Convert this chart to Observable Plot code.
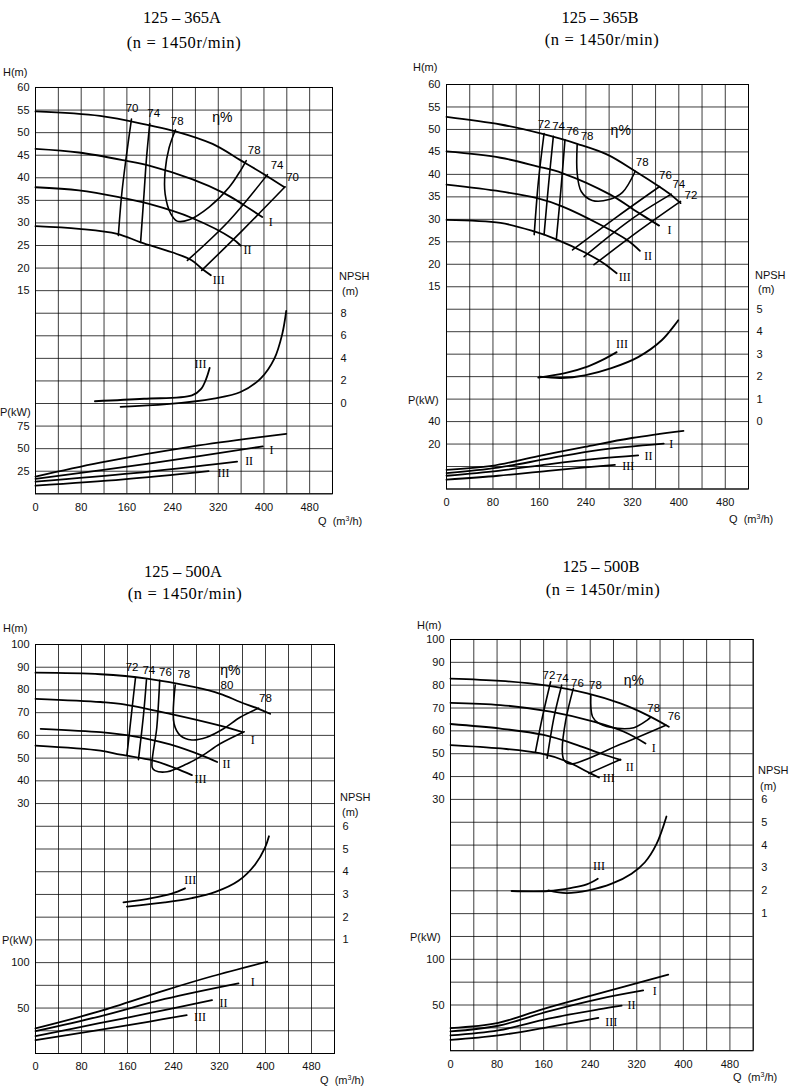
<!DOCTYPE html>
<html><head><meta charset="utf-8">
<script src="https://cdn.jsdelivr.net/npm/d3@7"></script>
<script src="https://cdn.jsdelivr.net/npm/@observablehq/plot@0.6"></script>
<style>
body{margin:0;background:#fff;}
#fig{position:relative;width:800px;height:1091px;overflow:hidden;background:#fff;font-family:"Liberation Sans",Arial,sans-serif;color:#111;}
.t{position:absolute;white-space:nowrap;line-height:1;}
.title{font-family:"Liberation Serif","Times New Roman",serif;font-size:16.5px;transform:translate(-50%,-50%);color:#000;}
.sub{letter-spacing:0.6px;}
.lab{font-size:11px;transform:translateY(-50%);}
svg{position:absolute;overflow:visible;}
</style></head><body><div id="fig"></div>
<script>
// ---------- shared ----------
const xTicks = [0, 80, 160, 240, 320, 400, 480];
const subtitle = "(n = 1450r/min)";

// ---------- 125-365A ----------
const A_title = "125 – 365A";
const A_hTicks = [60, 55, 50, 45, 40, 35, 30, 25, 20, 15];
const A_npshTicks = [8, 6, 4, 2, 0];
const A_pTicks = [75, 50, 25];
const A_H0 = [[0,54.7],[113,53.7],[200,51.6],[245,50.3],[310,47.5],[360,43.8],[400,40.8],[436,37.9]];
const A_H1 = [[0,46.4],[76,45.6],[158,43.8],[199,42.7],[274,39.7],[330,36.6],[362,34.2],[397,31.3]];
const A_H2 = [[0,37.9],[76,37.2],[146,35.7],[199,34.2],[274,31.1],[345,26.5],[359,25]];
const A_H3 = [[0,29.3],[76,28.7],[143,27.6],[184,25.7],[239,23.5],[274,21.7],[292,19.8],[307,18.4]];
const A_eff = [
  [[168,53],[158,43.8],[151,36.4],[145,27.2]],
  [[200,52],[194,43.8],[190,36.4],[184,25.7]],
  [[245,50.6],[234,46.7],[227,41.6],[227,36.4],[237,32],[248,30.4],[269,30.7],[304,33.5],[339,37.9],[359,41.6],[369,43.8]],
  [[266,21.7],[339,30.5],[406,40.7]],
  [[291,19.5],[362,28.3],[437,38]]
];
const A_effLabels = [["70",169,55.4],["74",207,54.3],["78",248,52.4],["78",383,46],["74",423,42.7],["70",450,40.2]];
const A_etaLabel = [["η%",327,53.4]];
const A_romanH = [["I",412,30.2],["II",371,23.9],["III",321,17.3]];
const A_N3 = [[104,0.2],[190,0.42],[274,0.72],[290,1.3],[299,2.2],[305,3.16]];
const A_N0 = [[149,-0.29],[230,-0.06],[312,0.44],[359,1.02],[394,2.2],[418,3.95],[432,6.15],[439,8.2]];
const A_romanN = [["III",289,3.45]];
const A_P0 = [[0,19],[113,34.5],[275,52.5],[439,66.4]];
const A_P1 = [[0,16.5],[201,33.8],[398,52.5]];
const A_P2 = [[0,13.5],[172,22.8],[353,35.6]];
const A_P3 = [[0,9],[154,16],[303,25.1]];
const A_romanP = [["I",413,48],["II",374,35.6],["III",329,22.5]];

// ---------- 125-365B ----------
const B_title = "125 – 365B";
const B_hTicks = [60, 55, 50, 45, 40, 35, 30, 25, 20, 15];
const B_npshTicks = [5, 4, 3, 2, 1, 0];
const B_pTicks = [40, 20];
const B_H0 = [[0,52.8],[93,51.1],[162,49.1],[225,46.8],[277,44.4],[325,40.7],[366,37.3],[386,35.5],[403,33.6]];
const B_H1 = [[0,45.1],[93,43.7],[156,41.8],[199,40.3],[282,35.5],[323,32.1],[366,28.6]];
const B_H2 = [[0,37.7],[93,36.2],[156,34.7],[199,32.9],[265,28.8],[311,25.4],[333,23]];
const B_H3 = [[0,29.9],[93,29.2],[151,27.3],[188,25.6],[240,22.5],[271,20.2],[293,18]];
const B_eff = [
  [[168,49.1],[158,38.1],[151,26.6]],
  [[184,48.5],[176,38.1],[168,26.6]],
  [[204,47.7],[197,36.6],[189,25.4]],
  [[225,46.6],[225,40.3],[232,36.2],[251,34.2],[280,34.4],[303,36],[325,40.7]],
  [[217,23.2],[294,30.6],[367,37.3]],
  [[237,21.7],[317,29.9],[387,35.6]],
  [[254,19.9],[334,27.7],[403,34]]
];
const B_effLabels = [["72",168,51.1],["74",193,50.6],["76",217,49.6],["78",242,48.5],["78",337,42.7],["76",377,39.9],["74",400,37.9],["72",421,35.3]];
const B_etaLabel = [["η%",300,49.8]];
const B_romanH = [["I",384,27.5],["II",347,21.7],["III",307,17.1]];
const B_N3 = [[158,1.96],[204,2.16],[244,2.46],[273,2.8],[293,3.09]];
const B_N0 = [[160,2.0],[198,1.94],[238,2.06],[284,2.38],[330,2.87],[371,3.63],[399,4.51]];
const B_romanN = [["III",302,3.46]];
const B_P0 = [[0,-2.9],[78,0.6],[158,9.3],[238,17.5],[319,25.4],[408,31.8]];
const B_P1 = [[0,-5.8],[89,-0.9],[175,7],[261,14.6],[374,20.4]];
const B_P2 = [[0,-8.2],[89,-3.8],[175,2],[261,7],[330,9.9]];
const B_P3 = [[0,-11.7],[89,-8.2],[175,-3.8],[290,1.5]];
const B_romanP = [["I",387,19.6],["II",348,9.3],["III",313,0]];

// ---------- 125-500A ----------
const C_title = "125 – 500A";
const C_hTicks = [100, 90, 80, 70, 60, 50, 40, 30];
const C_npshTicks = [6, 5, 4, 3, 2, 1];
const C_pTicks = [100, 50];
const C_H0 = [[0,87.6],[113,86.9],[194,85],[275,81.3],[321,78.3],[356,74.7],[388,71.7],[408,69.5]];
const C_H1 = [[0,76.1],[113,74.7],[148,73.9],[234,69.5],[321,64.3],[360,61.4]];
const C_H2 = [[9,62.9],[113,61.4],[148,60.4],[194,58.5],[234,56],[290,51.1],[316,48.3]];
const C_H3 = [[0,55.5],[113,53.3],[148,51.5],[205,48.9],[243,45.6],[272,42.5]];
const C_eff = [
  [[174,85.5],[168,72],[159,51.2]],
  [[193,84.5],[188,69.5],[179,49.3]],
  [[216,84.2],[211,63.6],[203,45.9],[208,44.5],[229,44],[263,47.4],[290,51.1],[321,56.3],[363,61.6]],
  [[243,82.2],[241,65.1],[252,59.9],[272,58],[298,59.2],[327,62.9],[356,68],[388,72]]
];
const C_effLabels = [["72",168,89.8],["74",197,88.6],["76",226,87.6],["78",258,86.9],["80",333,82],["78",400,76.1]];
const C_etaLabel = [["η%",339,88.6]];
const C_romanH = [["I",378,57.7],["II",332,47.4],["III",287,40.8]];
const C_N3 = [[153,2.65],[202,2.84],[237,3.04],[260,3.27]];
const C_N0 = [[159,2.46],[225,2.65],[272,2.84],[313,3.11],[353,3.6],[382,4.32],[399,5.05],[406,5.56]];
const C_romanN = [["III",269,3.62]];
const C_P0 = [[0,27.6],[109,46],[225,69.5],[307,85],[403,101]];
const C_P1 = [[0,24.6],[109,40.4],[225,60],[353,77.2]];
const C_P2 = [[0,19.1],[109,33.1],[196,44.1],[307,58.8]];
const C_P3 = [[0,14.7],[109,25.7],[196,34.9],[263,42.3]];
const C_romanP = [["I",378,79],["II",327,55.9],["III",286,39.7]];

// ---------- 125-500B ----------
const D_title = "125 – 500B";
const D_hTicks = [100, 90, 80, 70, 60, 50, 40, 30];
const D_npshTicks = [6, 5, 4, 3, 2, 1];
const D_pTicks = [100, 50];
const D_H0 = [[0,82.9],[86,81.9],[160,80],[235,76.4],[292,72],[338,66.9],[375,61.8]];
const D_H1 = [[0,72.3],[86,71.3],[172,68.4],[246,64],[298,59.6],[335,54.5]];
const D_H2 = [[0,63],[86,61],[160,58.2],[218,53.8],[258,50.1],[292,47.3]];
const D_H3 = [[0,53.8],[86,52.3],[155,50.1],[201,46.5],[235,42.1],[255,39.6]];
const D_eff = [
  [[172,81.5],[158,66.2],[146,50.9]],
  [[191,80],[178,66.2],[166,48]],
  [[211,78.6],[198,64.7],[192,51.6],[195,47.2],[206,45.5],[292,54.1],[370,62.5]],
  [[241,75.6],[244,66.2],[255,63.3],[287,61.1],[315,61.4],[338,64.7],[344,66]],
  [[238,41.4],[292,47.5]]
];
const D_effLabels = [["72",169,84.4],["74",192,82.9],["76",218,81],["78",249,80],["78",349,69.8],["76",384,66.2]];
const D_etaLabel = [["η%",315,81.9]];
const D_romanH = [["I",349,52.3],["II",308,44],["III",272,39.4]];
const D_N3 = [[105,1.99],[168,1.99],[208,2.13],[234,2.28],[253,2.53]];
const D_N0 = [[168,2.02],[199,1.9],[237,2.02],[277,2.31],[311,2.75],[334,3.25],[354,4.05],[371,5.25]];
const D_romanN = [["III",255,3.07]];
const D_P0 = [[0,24.8],[82,30.5],[156,45],[240,60],[374,83.3]];
const D_P1 = [[0,21.1],[82,27.3],[168,43],[254,56.5],[331,65.9]];
const D_P2 = [[0,16.7],[82,22.2],[168,35],[254,45.1],[294,49.2]];
const D_P3 = [[0,11.8],[82,16.7],[168,25.9],[254,35.9]];
const D_romanP = [["I",351,64.8],["II",311,50],["III",276,31.5]];

// ---------- panel definitions (scales & layout) ----------
const panels = [
  {title:A_title, hTicks:A_hTicks, npshTicks:A_npshTicks, pTicks:A_pTicks,
   H:[A_H0,A_H1,A_H2,A_H3], eff:A_eff, effLabels:A_effLabels, eta:A_etaLabel, romanH:A_romanH,
   N:[A_N3,A_N0], romanN:A_romanN, P:[A_P0,A_P1,A_P2,A_P3], romanP:A_romanP,
   yDomain:[-30,60], step:5, nOff:-10, nFac:2.5, pOff:-30, pFac:0.2,
   x0:0, frame:{left:35, right:332, top:86.7, bottom:493},
   tx:182, ty:18, sy:43, hm:[3,72], npsh:[339,276], m:[342,291], pk:[0,412], q:[318,521]},
  {title:B_title, hTicks:B_hTicks, npshTicks:B_npshTicks, pTicks:B_pTicks,
   H:[B_H0,B_H1,B_H2,B_H3], eff:B_eff, effLabels:B_effLabels, eta:B_etaLabel, romanH:B_romanH,
   N:[B_N3,B_N0], romanN:B_romanN, P:[B_P0,B_P1,B_P2,B_P3], romanP:B_romanP,
   yDomain:[-30,60], step:5, nOff:-15, nFac:5, pOff:-25, pFac:0.25,
   x0:400, frame:{left:446, right:748, top:83.5, bottom:488},
   tx:600, ty:18, sy:40, hm:[413,67], npsh:[755,275], m:[758,289], pk:[408,400], q:[729,519]},
  {title:C_title, hTicks:C_hTicks, npshTicks:C_npshTicks, pTicks:C_pTicks,
   H:[C_H0,C_H1,C_H2,C_H3], eff:C_eff, effLabels:C_effLabels, eta:C_etaLabel, romanH:C_romanH,
   N:[C_N3,C_N0], romanN:C_romanN, P:[C_P0,C_P1,C_P2,C_P3], romanP:C_romanP,
   yDomain:[-80,100], step:10, nOff:-40, nFac:10, pOff:-80, pFac:0.4,
   x0:0, frame:{left:35, right:334, top:644.3, bottom:1053.3},
   tx:183, ty:572, sy:594, hm:[3,628], npsh:[340,797], m:[342,812], pk:[2,940], q:[320,1080]},
  {title:D_title, hTicks:D_hTicks, npshTicks:D_npshTicks, pTicks:D_pTicks,
   H:[D_H0,D_H1,D_H2,D_H3], eff:D_eff, effLabels:D_effLabels, eta:D_etaLabel, romanH:D_romanH,
   N:[D_N3,D_N0], romanN:D_romanN, P:[D_P0,D_P1,D_P2,D_P3], romanP:D_romanP,
   yDomain:[-80,100], step:10, nOff:-30, nFac:10, pOff:-80, pFac:0.4,
   x0:400, frame:{left:450, right:752.7, top:639.3, bottom:1050.5},
   tx:601, ty:567, sy:590, hm:[417,625], npsh:[758,770], m:[760,786], pk:[410,937], q:[733,1077]}
];

const fig = document.getElementById("fig");
function addText(txt, cls, x, y) {
  const d = document.createElement("div");
  d.className = "t " + cls;
  d.style.left = x + "px";
  d.style.top = y + "px";
  d.innerHTML = txt;
  fig.appendChild(d);
}

const serif = "Liberation Serif, Times New Roman, serif";
const curveOpts = {curve: "catmull-rom", stroke: "#000", strokeWidth: 1.8, strokeLinejoin: "round"};

for (const p of panels) {
  const f = p.frame;
  const mt = 30, mb = 42;
  const width = 400, height = (f.bottom - f.top) + mt + mb;
  const ml = f.left - p.x0, mr = p.x0 + width - f.right;
  const toN = v => p.nOff + v * p.nFac;
  const toP = v => p.pOff + v * p.pFac;
  const fromN = h => Math.round((h - p.nOff) / p.nFac);
  const fromP = h => Math.round((h - p.pOff) / p.pFac);
  const gridRows = d3.range(p.yDomain[0], p.yDomain[1] + 1e-9, p.step);
  const gridCols = d3.range(0, 521, 40);

  const marks = [
    Plot.gridY(gridRows, {stroke: "#000", strokeOpacity: 0.85, strokeWidth: 0.9}),
    Plot.gridX(gridCols, {stroke: "#000", strokeOpacity: 0.85, strokeWidth: 0.9}),
    Plot.frame({stroke: "#000", strokeWidth: 1}),
    Plot.axisX(xTicks, {tickSize: 0, tickPadding: 9, fontSize: 11, label: null}),
    Plot.axisY(p.hTicks, {anchor: "left", tickSize: 0, tickPadding: 6, fontSize: 11, label: null}),
    Plot.axisY(p.pTicks.map(toP), {anchor: "left", tickSize: 0, tickPadding: 6, fontSize: 11, label: null, tickFormat: fromP}),
    Plot.axisY(p.npshTicks.map(toN), {anchor: "right", tickSize: 0, tickPadding: 8, fontSize: 11, label: null, tickFormat: fromN}),
    ...p.H.map(s => Plot.line(s, {x: d => d[0], y: d => d[1], ...curveOpts})),
    ...p.eff.map(s => Plot.line(s, {x: d => d[0], y: d => d[1], ...curveOpts, strokeWidth: 1.6})),
    ...p.N.map(s => Plot.line(s, {x: d => d[0], y: d => toN(d[1]), ...curveOpts})),
    ...p.P.map(s => Plot.line(s, {x: d => d[0], y: d => toP(d[1]), ...curveOpts})),
    Plot.text(p.effLabels, {x: d => d[1], y: d => d[2], text: d => d[0], fontSize: 11.5, fill: "#000"}),
    Plot.text(p.eta, {x: d => d[1], y: d => d[2], text: d => d[0], fontSize: 14, fill: "#000"}),
    Plot.text(p.romanH, {x: d => d[1], y: d => d[2], text: d => d[0], fontSize: 12, fontFamily: serif, fill: "#000"}),
    Plot.text(p.romanN, {x: d => d[1], y: d => toN(d[2]), text: d => d[0], fontSize: 12, fontFamily: serif, fill: "#000"}),
    Plot.text(p.romanP, {x: d => d[1], y: d => toP(d[2]), text: d => d[0], fontSize: 12, fontFamily: serif, fill: "#000"})
  ];

  const svg = Plot.plot({
    width, height,
    marginLeft: ml, marginRight: mr, marginTop: mt, marginBottom: mb,
    x: {domain: [0, 520]},
    y: {domain: p.yDomain},
    style: {fontFamily: "Liberation Sans, Arial, sans-serif", fontSize: "11px", background: "transparent", color: "#111", overflow: "visible"},
    marks
  });
  svg.style.left = p.x0 + "px";
  svg.style.top = (f.top - mt) + "px";
  fig.appendChild(svg);

  addText(p.title, "title", p.tx, p.ty);
  addText(subtitle, "title sub", p.tx + 2, p.sy);
  addText("H(m)", "lab", p.hm[0], p.hm[1]);
  addText("NPSH", "lab", p.npsh[0], p.npsh[1]);
  addText("(m)", "lab", p.m[0], p.m[1]);
  addText("P(kW)", "lab", p.pk[0], p.pk[1]);
  addText("Q&nbsp;&nbsp;(m<sup style='font-size:7px'>3</sup>/h)", "lab", p.q[0], p.q[1]);
}
</script></body></html>
